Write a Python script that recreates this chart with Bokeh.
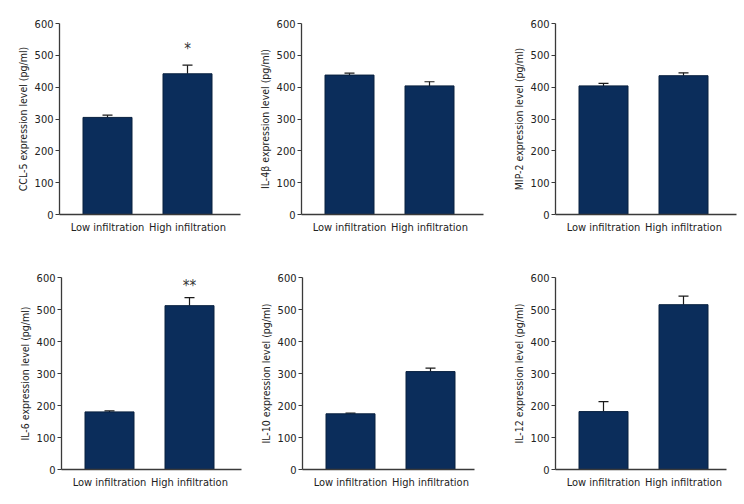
from bokeh.plotting import figure
from bokeh.layouts import column, row
from bokeh.models import Range1d, FixedTicker, ColumnDataSource, Whisker, TeeHead, Label
from bokeh.embed import file_html
from bokeh.resources import INLINE

categories = ["Low infiltration", "High infiltration"]
y_ticks = [0, 100, 200, 300, 400, 500, 600]

titles = ["CCL-5 expression level (pg/ml)", "IL-4β expression level (pg/ml)",
          "MIP-2 expression level (pg/ml)", "IL-6 expression level (pg/ml)",
          "IL-10 expression level (pg/ml)", "IL-12 expression level (pg/ml)"]
means = [[305, 442], [438, 404], [404, 436], [180, 512], [174, 306], [181, 515]]
errors = [[7, 27], [6, 13], [8, 9], [3, 25], [2, 11], [31, 27]]
star_marks = [["", "*"], ["", ""], ["", ""], ["", "**"], ["", ""], ["", ""]]

FONT = "DejaVu Sans Condensed"
BAR = "#0b2d5b"
AX = "#3a3a3a"

# layout per panel: (width, height, border_left, frame_w, border_top, frame_h, star baseline y)
layout = [
    (250, 250, 59, 181, 23, 191, 520),
    (242, 250, 51, 182, 23, 191, 520),
    (252, 250, 63, 181, 23, 191, 520),
    (250, 254, 61, 180, 27, 192, 575),
    (242, 254, 52, 172, 27, 192, 575),
    (252, 254, 63, 171, 27, 192, 575),
]

figs = []
for i in range(6):
    w, h, bl, fw, bt, fh, sy = layout[i]
    unit = 80.0
    start = 0.5 - 48.0 / unit
    end = start + fw / unit
    xs = [j + 0.5 for j in range(len(categories))]
    p = figure(width=w, height=h, output_backend="svg", toolbar_location=None,
               x_range=Range1d(start, end), y_range=Range1d(0, 600),
               min_border_left=bl, min_border_top=bt,
               min_border_right=w - bl - fw, min_border_bottom=h - bt - fh,
               frame_width=fw, frame_height=fh)
    p.outline_line_color = None
    p.grid.visible = False
    p.background_fill_color = "white"
    p.border_fill_color = "white"

    upper = [m + e for m, e in zip(means[i], errors[i])]
    src = ColumnDataSource(dict(x=xs, top=means[i], lower=list(means[i]), upper=upper))
    p.vbar(x="x", top="top", bottom=0, width=49 / unit, source=src,
           fill_color=BAR, line_color="#08203f", line_width=1)
    wk = Whisker(base="x", lower="lower", upper="upper", source=src,
                 line_color="#1a1a1a", line_width=1.2,
                 upper_head=TeeHead(size=10, line_color="#1a1a1a", line_width=1.2),
                 lower_head=None)
    p.add_layout(wk)
    for j, s in enumerate(star_marks[i]):
        if s:
            p.add_layout(Label(x=xs[j], y=sy, text=s, text_align="center",
                               text_baseline="alphabetic", text_font=FONT,
                               text_font_size="15px", text_color="#333333",
                               level="overlay"))

    xa = p.xaxis[0]
    xa.ticker = FixedTicker(ticks=xs)
    xa.major_label_overrides = {x: c for x, c in zip(xs, categories)}
    xa.major_tick_line_color = None
    xa.major_tick_out = 0
    xa.major_tick_in = 0
    xa.minor_tick_line_color = None
    xa.axis_line_color = AX
    xa.axis_line_width = 1.3
    xa.major_label_text_font = FONT
    xa.major_label_text_font_size = "11px"
    xa.major_label_text_color = "#222222"
    xa.major_label_standoff = 6

    ya = p.yaxis[0]
    ya.ticker = FixedTicker(ticks=y_ticks)
    ya.minor_tick_line_color = None
    ya.major_tick_in = 0
    ya.major_tick_out = 4
    ya.axis_line_color = AX
    ya.axis_line_width = 1.3
    ya.major_tick_line_color = AX
    ya.major_label_text_font = FONT
    ya.major_label_text_font_size = "11px"
    ya.major_label_text_color = "#222222"
    ya.major_label_standoff = 2
    ya.axis_label = titles[i]
    ya.axis_label_text_font = FONT
    ya.axis_label_text_font_size = "10.5px"
    ya.axis_label_text_font_style = "normal"
    ya.axis_label_text_color = "#222222"
    ya.axis_label_standoff = 3
    figs.append(p)

layout_all = column(row(figs[0], figs[1], figs[2]), row(figs[3], figs[4], figs[5]))
open("out.html", "w").write(file_html(layout_all, INLINE))
